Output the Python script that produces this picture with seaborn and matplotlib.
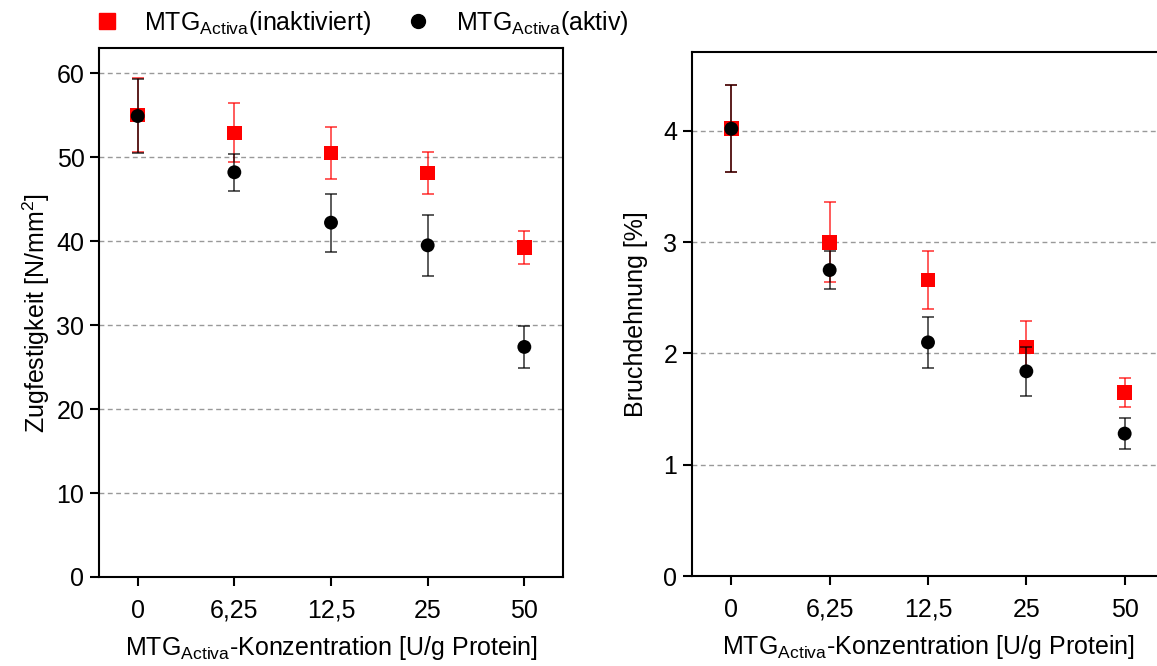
import numpy as np
import pandas as pd
import matplotlib
matplotlib.use("Agg")
import matplotlib.pyplot as plt
import seaborn as sns
from matplotlib.lines import Line2D

sns.set_theme(style="white")
plt.rcParams['font.family'] = ['Liberation Sans', 'DejaVu Sans']
plt.rcParams['mathtext.fontset'] = 'custom'
plt.rcParams['mathtext.rm'] = 'Liberation Sans'
plt.rcParams['text.color'] = 'black'
plt.rcParams['axes.labelcolor'] = 'black'

categories = ["0", "6,25", "12,5", "25", "50"]

# Zugfestigkeit [N/mm2]
zug_inakt = [55.0, 52.9, 50.5, 48.1, 39.25]
zug_inakt_sd = [4.4, 3.5, 3.15, 2.5, 2.0]
zug_aktiv = [54.9, 48.2, 42.2, 39.5, 27.4]
zug_aktiv_sd = [4.4, 2.2, 3.45, 3.65, 2.5]

# Bruchdehnung [%]
bd_inakt = [4.02, 3.00, 2.66, 2.06, 1.65]
bd_inakt_sd = [0.39, 0.36, 0.26, 0.23, 0.13]
bd_aktiv = [4.02, 2.75, 2.10, 1.84, 1.28]
bd_aktiv_sd = [0.39, 0.17, 0.23, 0.22, 0.14]

label_inakt = r"MTG$_{\mathregular{Activa}}$(inaktiviert)"
label_aktiv = r"MTG$_{\mathregular{Activa}}$(aktiv)"
xlabel = r"MTG$_{\mathregular{Activa}}$-Konzentration [U/g Protein]"

W, H = 1157, 666
fig = plt.figure(figsize=(W / 100, H / 100), dpi=100)
ax1 = fig.add_axes([99 / W, (H - 577) / H, (563 - 99) / W, (577 - 48) / H])
ax2 = fig.add_axes([692 / W, (H - 576) / H, 472 / W, (576 - 52) / H])

RED = "#ff0000"
BLK = "#000000"
FS = 18

def draw(ax, inakt, inakt_sd, aktiv, aktiv_sd, ylim, yticks, ylabel, ylabelpad):
    pos = np.arange(len(categories))
    df = pd.DataFrame({
        "x": np.concatenate([pos, pos]),
        "y": inakt + aktiv,
        "s": ["inakt"] * len(pos) + ["aktiv"] * len(pos),
    })
    ax.errorbar(pos, inakt, yerr=inakt_sd, fmt="none", ecolor=RED, elinewidth=1.2,
                capsize=4.5, capthick=1.2, alpha=0.75, zorder=2)
    sns.scatterplot(data=df[df.s == "inakt"], x="x", y="y", marker="s", s=110,
                    color=RED, edgecolor="none", ax=ax, zorder=3, legend=False)
    ax.errorbar(pos, aktiv, yerr=aktiv_sd, fmt="none", ecolor=BLK, elinewidth=1.2,
                capsize=4.5, capthick=1.2, alpha=0.75, zorder=4)
    sns.scatterplot(data=df[df.s == "aktiv"], x="x", y="y", marker="o", s=100,
                    color=BLK, edgecolor="none", ax=ax, zorder=5, legend=False)
    ax.set_xlim(-0.4, 4.4)
    ax.set_ylim(*ylim)
    ax.set_xticks(pos)
    ax.set_xticklabels(categories)
    ax.set_yticks(yticks)
    for t in yticks:
        if t != 0:
            ax.axhline(t, color="#999999", linestyle=(0, (3.5, 2.5)), linewidth=1.0, zorder=1)
    ax.set_xlabel(xlabel, fontsize=FS, labelpad=8, color="black")
    ax.set_ylabel(ylabel, fontsize=FS, labelpad=ylabelpad, color="black")
    ax.tick_params(axis="both", direction="out", labelsize=FS, colors="black",
                   width=1.5, length=6.5, left=True, bottom=True, pad=4)
    ax.tick_params(axis="x", pad=9)
    for sp in ax.spines.values():
        sp.set_visible(True)
        sp.set_color("black")
        sp.set_linewidth(1.5)
    ax.grid(False)

draw(ax1, zug_inakt, zug_inakt_sd, zug_aktiv, zug_aktiv_sd, (0, 63), [0, 10, 20, 30, 40, 50, 60],
     r"Zugfestigkeit [N/mm$^{\mathregular{2}}$]", 3)
draw(ax2, bd_inakt, bd_inakt_sd, bd_aktiv, bd_aktiv_sd, (0, 4.71), [0, 1, 2, 3, 4],
     "Bruchdehnung [%]", 11)

handles = [
    Line2D([], [], marker="s", color=RED, linestyle="none", markersize=11, label=label_inakt),
    Line2D([], [], marker="o", color=BLK, linestyle="none", markersize=10, label=label_aktiv),
]
leg = fig.legend(handles=handles, loc="upper left", bbox_to_anchor=(69 / W, 1.005), ncol=2,
                 frameon=False, fontsize=FS, handletextpad=0.5, columnspacing=0.9,
                 borderaxespad=0.1)
for t in leg.get_texts():
    t.set_color("black")

fig.savefig("out.png", dpi=100, facecolor="white")
